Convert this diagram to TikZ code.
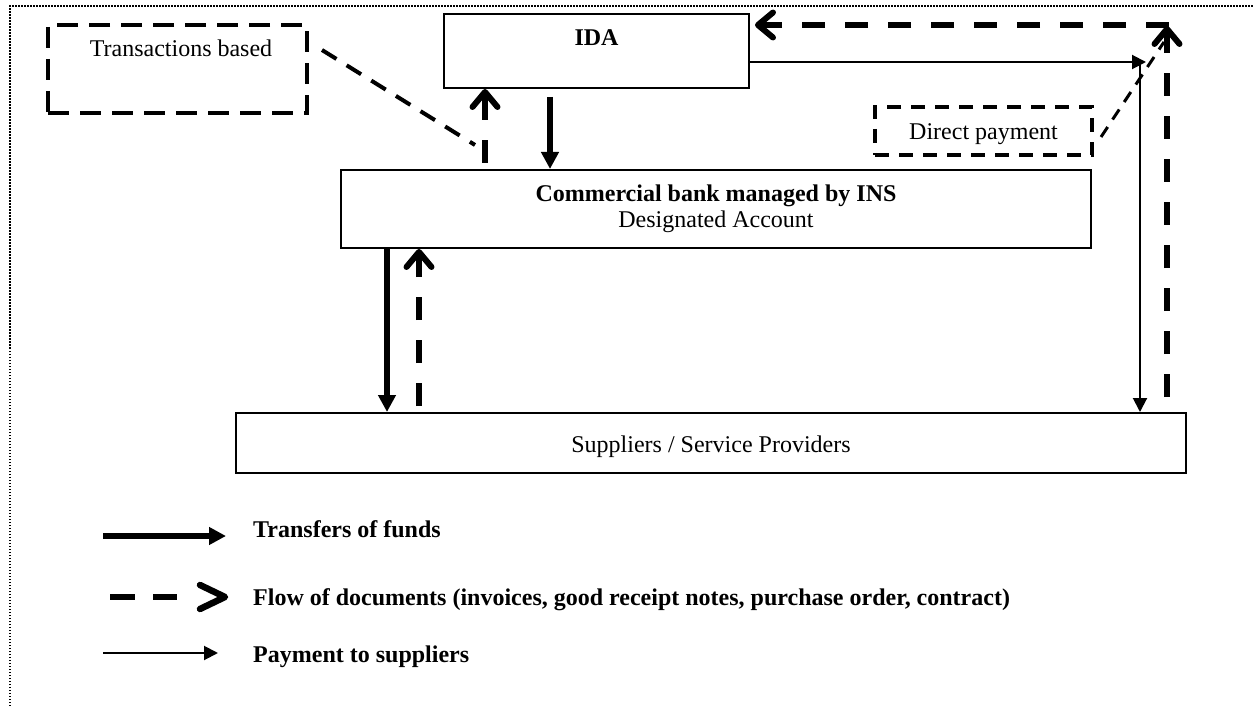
\documentclass[tikz,border=0pt]{standalone}
\usepackage{fontspec}
\setmainfont{Liberation Serif}
\usetikzlibrary{arrows.meta}
\begin{document}
\begin{tikzpicture}[x=1pt,y=-1pt,
  box/.style={draw, line width=2pt, inner sep=0pt},
  tbox/.style={draw, line width=4pt, dash pattern=on 21pt off 11pt, inner sep=0pt},
  dpbox/.style={draw, line width=3.5pt, dash pattern=on 14pt off 10pt, inner sep=0pt},
  txt/.style={font=\fontsize{24}{28}\selectfont, inner sep=0pt, anchor=base},
  btxt/.style={txt, font=\fontsize{24}{28}\selectfont\bfseries},
  fund/.style={line width=6pt, -{Triangle[length=17pt,width=17pt]}},
  doc/.style={line width=6pt, dash pattern=on 23pt off 20pt, -{Straight Barb[length=15pt,width=25pt,line cap=round,line join=round]}},
  pay/.style={line width=2pt, -{Triangle[length=14pt,width=14pt]}},
  link/.style={line width=4pt, dash pattern=on 17pt off 12pt},
  plink/.style={line width=3pt, dash pattern=on 12pt off 9pt},
  frame/.style={line width=1.5pt, dash pattern=on 1.5pt off 1.5pt}]
\useasboundingbox (0,0) rectangle (1254,706);

% frame
\coordinate (fr1) at (10,706);
\coordinate (fr2) at (10,6);
\coordinate (fr3) at (1254,6);
\draw[frame] (fr1) -- (fr2) -- (fr3);

% boxes
\node[box, minimum width=305pt, minimum height=74pt] (ida) at (596.5,51) {};
\node[tbox, minimum width=259pt, minimum height=88pt] (trans) at (177.5,69) {};
\node[box, minimum width=750pt, minimum height=78pt] (bank) at (716,209) {};
\node[box, minimum width=950pt, minimum height=60pt] (supp) at (711,443) {};
\node[dpbox, minimum width=217pt, minimum height=48pt] (dp) at (983.5,131) {};

% texts
\node[txt] (transt) at (181,57) {Transactions based};
\node[btxt] (idat) at (596.5,46) {IDA};
\node[btxt] (bankt1) at (716,202) {Commercial bank managed by INS};
\node[txt] (bankt2) at (716,228) {Designated Account};
\node[txt] (suppt) at (711,452) {Suppliers / Service Providers};
\node[txt] (dpt) at (983.5,140) {Direct payment};

% connectors
\coordinate (tl1) at (322,50);
\coordinate (tl2) at (475,145);
\draw[link] (tl1) -- (tl2);

\coordinate (u1) at (485,163);
\draw[doc] (u1) -- (u1 |- ida.south);

\coordinate (d1) at (550,97);
\draw[fund] (d1) -- (d1 |- bank.north);

\coordinate (f2) at (387,248);
\draw[fund] (f2) -- (f2 |- supp.north);

\coordinate (u2) at (419,406);
\draw[doc] (u2) -- (u2 |- bank.south);

\coordinate (pc) at (1146,62);
\draw[pay] ([yshift=-11pt]ida.east) -- (pc);
\coordinate (pv) at (1140,64);
\draw[pay] (pv) -- (pv |- supp.north);

\coordinate (dv) at (1167,397);
\coordinate (dc) at (1167,26);
\draw[doc] (dv) -- (dc);
\coordinate (dh) at (1169,25);
\draw[doc, shorten >=5pt] (dh) -- (dh -| ida.east);

\coordinate (pl1) at (1101,137);
\coordinate (pl2) at (1164,42);
\draw[plink] (pl1) -- (pl2);

% legend
\coordinate (l1a) at (103,536);
\coordinate (l1b) at (226,536);
\draw[fund] (l1a) -- (l1b);
\node[btxt, anchor=base west] (l1t) at (253,537) {Transfers of funds};

\coordinate (l2a) at (110,597);
\coordinate (l2b) at (177,597);
\coordinate (l2c) at (225,597);
\draw[line width=6pt, dash pattern=on 25pt off 18pt] (l2a) -- (l2b);
\draw[line width=6.5pt, line cap=round, line join=round]
  ([xshift=-25pt,yshift=12pt]l2c) -- (l2c) -- ([xshift=-25pt,yshift=-12pt]l2c);
\node[btxt, anchor=base west] (l2t) at (253,605) {Flow of documents (invoices, good receipt notes, purchase order, contract)};

\coordinate (l3a) at (103,653);
\coordinate (l3b) at (218,653);
\draw[pay] (l3a) -- (l3b);
\node[btxt, anchor=base west] (l3t) at (253,662) {Payment to suppliers};
\end{tikzpicture}
\end{document}
